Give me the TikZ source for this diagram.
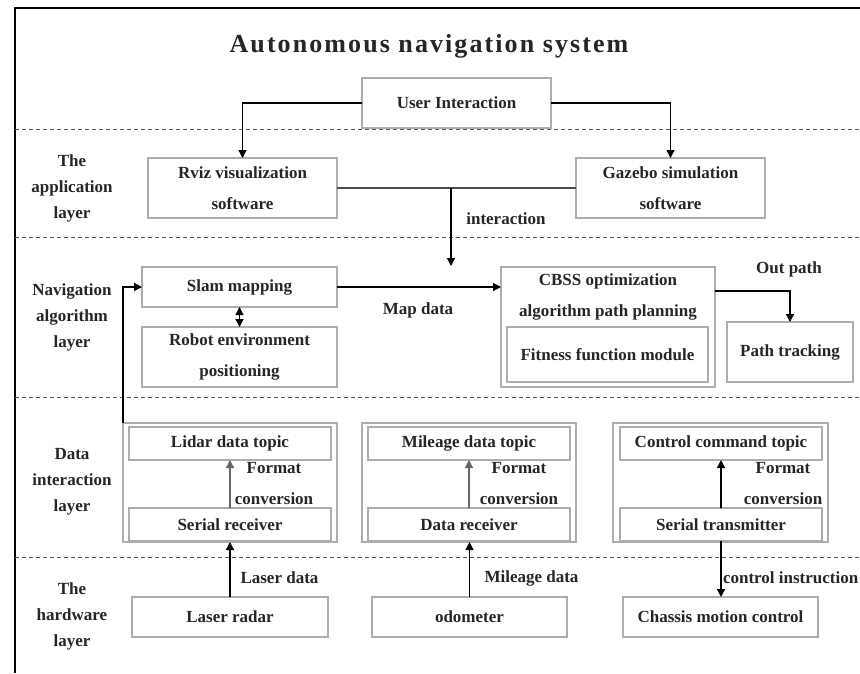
\documentclass[tikz,border=0pt]{standalone}
\usepackage{fontspec}
\setmainfont{Liberation Serif}
\newfontfamily\titlefamily[LetterSpace=8]{Liberation Serif}
\usetikzlibrary{arrows.meta}
\begin{document}
\begin{tikzpicture}[x=1pt,y=-1pt,
  >={Triangle[length=8pt,width=8pt]},
  every node/.style={font=\bfseries\fontsize{17}{31}\selectfont, text=black!85, inner sep=0pt, outer sep=0pt},
  box/.style={draw=black!32, line width=1.2pt, align=center},
  grp/.style={draw=black!32, line width=1.2pt},
  layer/.style={align=center, font=\bfseries\fontsize{17}{26}\selectfont},
  lbl/.style={align=center},
  conn/.style={draw=black, line width=1.3pt, ->},
  gconn/.style={draw=black!60, line width=1.3pt, ->},
  sep/.style={draw=black!65, line width=1pt, dash pattern=on 4pt off 3pt},
  frame/.style={draw=black, line width=2pt}]

\useasboundingbox (0,0) rectangle (860,673);

% outer frame (top and left edges)
\draw[frame] (15,673) -- (15,8) -- (860,8);

% layer separators
\foreach \yy in {129,237,397,557} \draw[sep] (15,\yy) -- (860,\yy);

% title
\node (title) at (429,46) {\titlefamily\bfseries\fontsize{26}{30}\selectfont Autonomous navigation system};

% layer names
\node[layer] (lapp) at (72,188) {The\\application\\layer};
\node[layer] (lnav) at (72,317) {Navigation\\algorithm\\layer};
\node[layer] (ldat) at (72,482) {Data\\interaction\\layer};
\node[layer] (lhw)  at (72,616) {The\\hardware\\layer};

% application layer
\node[box, minimum width=189pt, minimum height=50pt] (ui) at (456.5,103) {User Interaction};
\node[box, minimum width=189pt, minimum height=60pt] (rviz) at (242.5,188) {Rviz visualization\\software};
\node[box, minimum width=189pt, minimum height=60pt] (gz) at (670.5,188) {Gazebo simulation\\software};

% navigation algorithm layer
\node[box, minimum width=195pt, minimum height=40pt] (slam) at (239.5,287) {Slam mapping};
\node[box, minimum width=195pt, minimum height=60pt] (robot) at (239.5,357) {Robot environment\\positioning};
\node[box, minimum width=214pt, minimum height=120pt] (cbss) at (608,327) {};
\node[lbl] (cbsstext) at (608,297) {CBSS optimization\\algorithm path planning};
\node[box, minimum width=201pt, minimum height=55pt] (fit) at (607.5,354.5) {Fitness function module};
\node[box, minimum width=126pt, minimum height=60pt] (track) at (790,352) {Path tracking};

% data interaction layer
\node[grp, minimum width=214pt, minimum height=119pt] (g1) at (230,482.5) {};
\node[box, minimum width=202pt, minimum height=33pt] (lidar) at (230,443.5) {Lidar data topic};
\node[box, minimum width=202pt, minimum height=33pt] (srecv) at (230,524.5) {Serial receiver};
\node[grp, minimum width=214pt, minimum height=119pt] (g2) at (469,482.5) {};
\node[box, minimum width=202pt, minimum height=33pt] (mile) at (469,443.5) {Mileage data topic};
\node[box, minimum width=202pt, minimum height=33pt] (drecv) at (469,524.5) {Data receiver};
\node[grp, minimum width=215pt, minimum height=119pt] (g3) at (720.5,482.5) {};
\node[box, minimum width=202pt, minimum height=33pt] (ctrl) at (721,443.5) {Control command topic};
\node[box, minimum width=202pt, minimum height=33pt] (stx) at (721,524.5) {Serial transmitter};

\node[lbl] (fc1) at (274,484) {Format\\conversion};
\node[lbl] (fc2) at (519,484) {Format\\conversion};
\node[lbl] (fc3) at (783,484) {Format\\conversion};

% hardware layer
\node[box, minimum width=196pt, minimum height=40pt] (laser) at (230,617) {Laser radar};
\node[box, minimum width=195pt, minimum height=40pt] (odo) at (469.5,617) {odometer};
\node[box, minimum width=195pt, minimum height=40pt] (chassis) at (720.5,617) {Chassis motion control};

% connectors
\draw[conn] (ui.west) -| (rviz.north);
\draw[conn] (ui.east) -| (gz.north);
\draw[draw=black!70, line width=1.3pt] (rviz.east) -- (gz.west);
\coordinate (itop) at (451,188);
\coordinate (ibot) at (451,266);
\draw[conn] (itop) -- (ibot);
\node (interlbl) at (506,219) {interaction};

\draw[conn] (slam.east) -- (slam.east -| cbss.west);
\node (maplbl) at (418,310) {Map data};
\draw[conn, <->] (slam.south) -- (robot.north);
\draw[conn] ([yshift=36pt]cbss.east) -| (track.north);
\node (outlbl) at (789,269) {Out path};

\draw[conn] (g1.north west) |- (slam.west);

\draw[gconn] (srecv.north) -- (lidar.south);
\draw[gconn] (drecv.north) -- (mile.south);
\draw[conn] (stx.north) -- (ctrl.north |- ctrl.south);

\draw[conn] (laser.north) -- (laser.north |- g1.south);
\node (laserlbl) at (279.5,578) {Laser data};
\draw[conn] (odo.north) -- (odo.north |- g2.south);
\node (milelbl) at (531.5,578) {Mileage data};
\draw[conn] (stx.south) -- (stx.south |- chassis.north);
\node[anchor=west] (ctrllbl) at (723,578) {control instruction};

\end{tikzpicture}
\end{document}
